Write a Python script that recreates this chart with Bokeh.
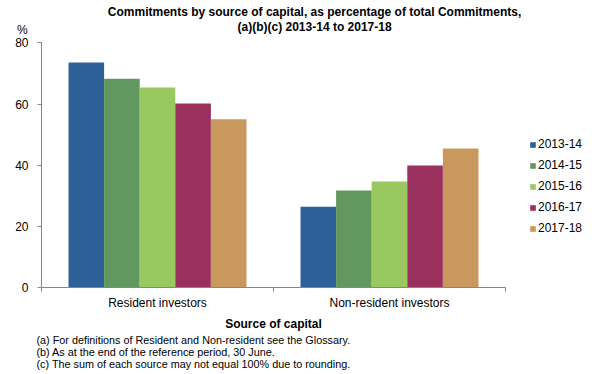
from bokeh.plotting import figure
from bokeh.models import Range1d, FixedTicker, Label, Legend, LegendItem, ColumnDataSource
from bokeh.transform import dodge
from bokeh.embed import file_html
from bokeh.resources import INLINE

# ---- data ----
categories = ["Resident investors", "Non-resident investors"]
years = ["2013-14", "2014-15", "2015-16", "2016-17", "2017-18"]
v_2013_14 = [73.6, 26.5]
v_2014_15 = [68.3, 31.8]
v_2015_16 = [65.4, 34.7]
v_2016_17 = [60.2, 39.9]
v_2017_18 = [55.0, 45.5]
y_ticks = [0, 20, 40, 60, 80]
title_lines = ["Commitments by source of capital, as percentage of total Commitments,",
               "(a)(b)(c) 2013-14 to 2017-18"]
x_title = "Source of capital"
y_unit = "%"
footnotes = ["(a) For definitions of Resident and Non-resident see the Glossary.",
             "(b) As at the end of the reference period, 30 June.",
             "(c) The sum of each source may not equal 100% due to rounding."]

# ---- styles ----
colors = ["#2D6198", "#62975F", "#99C861", "#99305E", "#C9985F"]
FONT = "Liberation Sans"
AXIS_COL = "#868686"
BAR_W = 0.1534
W, H = 595, 374
PX_X = 232.0      # pixels per category
PX_Y = 3.0625     # pixels per percent
X0, Y0 = 41, 287.3  # screen position of data origin

series = [v_2013_14, v_2014_15, v_2015_16, v_2016_17, v_2017_18]
data = {"x": [i + 0.5 for i in range(len(categories))]}
for yr, vals in zip(years, series):
    data[yr] = vals
source = ColumnDataSource(data)

x_range = Range1d(-X0 / PX_X, (W - X0) / PX_X)
y_range = Range1d(-(H - Y0) / PX_Y, Y0 / PX_Y)

p = figure(width=W, height=H, output_backend="svg", toolbar_location=None,
           x_range=x_range, y_range=y_range,
           min_border_left=0, min_border_right=0, min_border_top=0, min_border_bottom=0)
p.outline_line_color = None
p.grid.visible = False
p.background_fill_color = "white"
p.border_fill_color = "white"

items = []
for k, yr in enumerate(years):
    r = p.vbar(x=dodge("x", (k - 2) * BAR_W, range=p.x_range), top=yr, width=BAR_W,
               source=source, fill_color=colors[k], line_color=None)
    items.append(LegendItem(label=yr, renderers=[r]))

# y axis
yax = p.yaxis[0]
yax.fixed_location = 0
yax.bounds = (0, 80)
yax.ticker = FixedTicker(ticks=y_ticks)
yax.axis_line_color = AXIS_COL
yax.major_tick_line_color = AXIS_COL
yax.major_tick_out = 4
yax.major_tick_in = 0
yax.minor_tick_line_color = None
yax.major_label_text_font = FONT
yax.major_label_text_font_size = "12px"
yax.major_label_text_color = "black"
yax.major_label_standoff = 9

# x axis
xax = p.xaxis[0]
xax.fixed_location = 0
xax.bounds = (0, len(categories))
xax.ticker = FixedTicker(ticks=[i + 0.5 for i in range(len(categories))],
                         minor_ticks=list(range(len(categories) + 1)))
xax.major_label_overrides = {i + 0.5: c for i, c in enumerate(categories)}
xax.axis_line_color = AXIS_COL
xax.major_tick_line_color = None
xax.major_tick_out = 0
xax.major_tick_in = 0
xax.minor_tick_line_color = AXIS_COL
xax.minor_tick_out = 4
xax.minor_tick_in = 0
xax.major_label_text_font = FONT
xax.major_label_text_font_size = "12px"
xax.major_label_text_color = "black"
xax.major_label_standoff = 4
xax.axis_label = x_title
xax.axis_label_text_font = FONT
xax.axis_label_text_font_size = "12px"
xax.axis_label_text_font_style = "bold"
xax.axis_label_text_color = "black"
xax.axis_label_standoff = 4

# legend
legend = Legend(items=items, location=(529, H - 235.3), glyph_width=7, glyph_height=7,
                label_height=14, spacing=7, padding=0, margin=0, label_standoff=2,
                border_line_color=None, background_fill_alpha=0,
                label_text_font=FONT, label_text_font_size="12px", label_text_color="black")
p.add_layout(legend)

# title lines
for txt, yy in zip(title_lines, [89.9, 85.0]):
    p.add_layout(Label(x=1.177, y=yy, text=txt, text_align="center", text_baseline="middle",
                       text_font=FONT, text_font_size="12px", text_font_style="bold",
                       text_color="black"))

p.add_layout(Label(x=-0.083, y=84.2, text=y_unit, text_align="center", text_baseline="middle",
                   text_font=FONT, text_font_size="12px", text_color="black"))

for txt, yy in zip(footnotes, [-17.2, -21.0, -24.8]):
    p.add_layout(Label(x=-0.0216, y=yy, text=txt, text_align="left", text_baseline="middle",
                       text_font=FONT, text_font_size="10.8px", text_color="black"))

open("out.html", "w").write(file_html(p, INLINE))
